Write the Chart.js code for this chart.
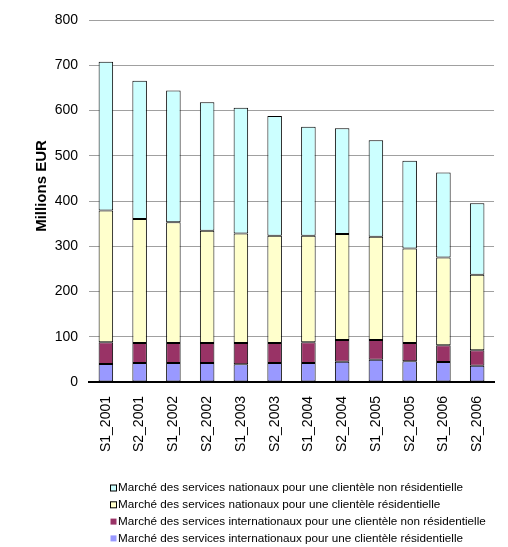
<!DOCTYPE html>
<html lang="fr">
<head>
<meta charset="utf-8">
<title>Marché des services - Millions EUR</title>
<script src="https://cdn.jsdelivr.net/npm/chart.js@4/dist/chart.umd.min.js"></script>
<style>
  html, body { margin: 0; padding: 0; background: #fff; }
  #wrap { position: relative; width: 508px; height: 547px; }
</style>
</head>
<body>
<div id="wrap"><canvas id="graphique"></canvas></div>
<script>
// --- Données (millions EUR par semestre) ---
const semestres = ['S1_2001', 'S2_2001', 'S1_2002', 'S2_2002', 'S1_2003', 'S2_2003',
                   'S1_2004', 'S2_2004', 'S1_2005', 'S2_2005', 'S1_2006', 'S2_2006'];

const internationauxResidentiel    = [40, 42, 42, 42, 39, 42, 42, 45, 49, 46, 44, 36];
const internationauxNonResidentiel = [48, 44, 44, 44, 47, 44, 46, 48, 44, 40, 37, 34];
const nationauxResidentiel         = [291, 274, 267, 248, 242, 237, 235, 234, 228, 209, 194, 167];
const nationauxNonResidentiel      = [329, 306, 291, 284, 278, 265, 241, 234, 213, 194, 188, 158];

const yTicks = { min: 0, max: 800, step: 100 };

const FONT = "Arial, 'Liberation Sans', sans-serif";

// Légende dessinée sous le graphique (ordre inverse de l'empilement)
const legendeBas = {
    id: 'legendeBas',
    afterDraw(chart) {
        const { ctx } = chart;
        const sets = chart.data.datasets.slice().reverse();
        ctx.save();
        ctx.font = '11.7px ' + FONT;
        ctx.textBaseline = 'middle';
        ctx.textAlign = 'left';
        sets.forEach((ds, i) => {
            const y = 488 + i * 16.8;
            ctx.fillStyle = ds.backgroundColor;
            ctx.fillRect(110.5, y - 3, 6, 6);
            if (ds.legendStroke) {
                ctx.strokeStyle = ds.legendStroke;
                ctx.lineWidth = 1;
                ctx.strokeRect(110.5, y - 3, 6, 6);
            }
            ctx.fillStyle = '#000';
            ctx.fillText(ds.label, 118, y);
        });
        ctx.restore();
    }
};

// Titre de l'axe Y
const titreAxe = {
    id: 'titreAxe',
    afterDraw(chart) {
        const { ctx, chartArea } = chart;
        ctx.save();
        ctx.translate(42, (chartArea.top + chartArea.bottom) / 2 - 15);
        ctx.rotate(-Math.PI / 2);
        ctx.font = 'bold 15px ' + FONT;
        ctx.fillStyle = '#000';
        ctx.textAlign = 'center';
        ctx.textBaseline = 'middle';
        ctx.fillText('Millions EUR', 0, 0);
        ctx.restore();
    }
};

function serie(label, data, couleur, legendStroke) {
    return {
        label: label,
        data: data,
        backgroundColor: couleur,
        borderColor: '#000',
        borderWidth: 1,
        borderSkipped: false,
        legendStroke: legendStroke
    };
}

new Chart(document.getElementById('graphique'), {
    type: 'bar',
    data: {
        labels: semestres,
        datasets: [
            serie('Marché des services internationaux pour une clientèle résidentielle', internationauxResidentiel, '#9999FF', null),
            serie('Marché des services internationaux pour une clientèle non résidentielle', internationauxNonResidentiel, '#993366', null),
            serie('Marché des services nationaux pour une clientèle résidentielle', nationauxResidentiel, '#FFFFCC', '#000'),
            serie('Marché des services nationaux pour une clientèle non résidentielle', nationauxNonResidentiel, '#CCFFFF', '#000')
        ]
    },
    options: {
        responsive: true,
        maintainAspectRatio: false,
        animation: false,
        layout: { padding: { top: 20, right: 1, left: 0, bottom: 0 } },
        datasets: {
            bar: { categoryPercentage: 1, barPercentage: 0.43 }
        },
        plugins: {
            legend: { display: false },
            tooltip: { enabled: false }
        },
        scales: {
            x: {
                stacked: true,
                grid: { display: false, drawTicks: false },
                border: { display: true, color: '#000', width: 2 },
                ticks: {
                    color: '#000',
                    font: { family: FONT, size: 14 },
                    minRotation: 90,
                    maxRotation: 90,
                    padding: 14
                },
                afterFit(scale) { scale.height = 165; }
            },
            y: {
                stacked: true,
                min: yTicks.min,
                max: yTicks.max,
                grid: { color: '#a0a0a0', lineWidth: 1, drawTicks: false },
                border: { display: false },
                ticks: {
                    stepSize: yTicks.step,
                    color: '#000',
                    font: { family: FONT, size: 14 },
                    padding: 11
                },
                afterFit(scale) { scale.width = 89; }
            }
        }
    },
    plugins: [legendeBas, titreAxe]
});
</script>
</body>
</html>
